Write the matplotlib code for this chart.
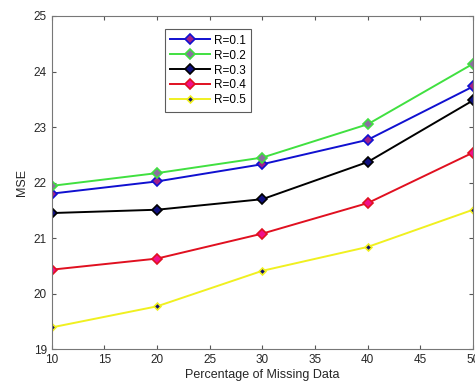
import matplotlib
matplotlib.use('Agg')
import matplotlib.pyplot as plt

plt.rcParams['font.family'] = ['Liberation Sans', 'DejaVu Sans']

missing_pct = [10, 20, 30, 40, 50]
mse_r01 = [21.80, 22.02, 22.33, 22.77, 23.73]
mse_r02 = [21.94, 22.17, 22.45, 23.05, 24.14]
mse_r03 = [21.45, 21.51, 21.70, 22.37, 23.48]
mse_r04 = [20.43, 20.63, 21.08, 21.63, 22.54]
mse_r05 = [19.39, 19.77, 20.41, 20.84, 21.51]
labels = ['R=0.1', 'R=0.2', 'R=0.3', 'R=0.4', 'R=0.5']

series = [mse_r01, mse_r02, mse_r03, mse_r04, mse_r05]
line_colors = ['#1010d0', '#40e040', '#000000', '#e01020', '#f0f020']
face_colors = ['#a0208a', '#8a70a0', '#101080', '#f0108a', '#101070']
marker_sizes = [5, 5, 5, 5, 3.5]

fig = plt.figure(figsize=(4.75, 3.9), dpi=100)
ax = fig.add_axes([0.109, 0.105, 0.887, 0.854])

for y, lab, lc, fc, ms in zip(series, labels, line_colors, face_colors, marker_sizes):
    ax.plot(missing_pct, y, color=lc, lw=1.4, marker='D', markersize=ms,
            markerfacecolor=fc, markeredgecolor=lc, markeredgewidth=1.2, label=lab)

ax.set_xlim(10, 50)
ax.set_ylim(19, 25)
ax.set_xticks([10, 15, 20, 25, 30, 35, 40, 45, 50])
ax.set_yticks([19, 20, 21, 22, 23, 24, 25])
ax.tick_params(direction='in', top=True, right=True, labelsize=8.5, length=3,
               color='#555555', labelcolor='#262626')
for s in ax.spines.values():
    s.set_color('#777777')
    s.set_linewidth(0.8)

ax.set_xlabel('Percentage of Missing Data', fontsize=9, color='#262626', labelpad=2)
ax.set_ylabel('MSE', fontsize=9, color='#262626', labelpad=4)

leg = ax.legend(loc='upper left', bbox_to_anchor=(0.268, 0.96), fontsize=8.5,
                frameon=True, fancybox=False, edgecolor='#333333',
                handlelength=3.4, handletextpad=0.3, borderpad=0.45,
                labelspacing=0.25, borderaxespad=0)
leg.get_frame().set_linewidth(0.8)

fig.savefig('out.png', dpi=100)
